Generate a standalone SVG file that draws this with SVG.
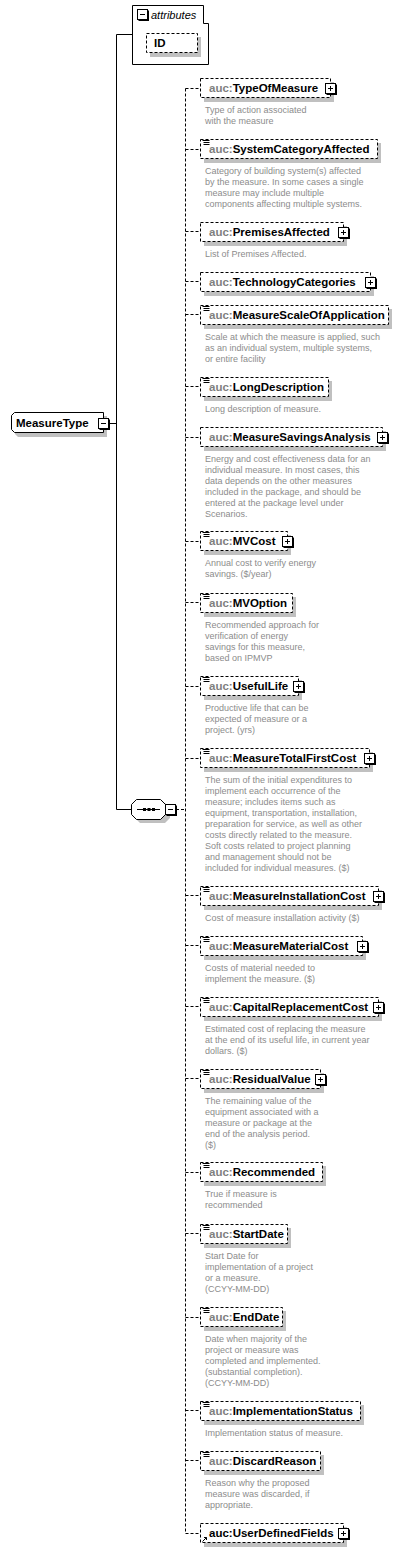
<svg xmlns="http://www.w3.org/2000/svg" xmlns:xlink="http://www.w3.org/1999/xlink" width="403" height="1552" viewBox="0 0 403 1552">
<style>
.box{fill:#fff;stroke:#000;stroke-dasharray:3,2}
.sbox{fill:#fff;stroke:#000}
.sh{fill:#c0c0c0}
.conn{stroke:#000;fill:none;stroke-dasharray:3,2}
.line{stroke:#000;fill:none}
.nm{font-family:"Liberation Sans",Arial,sans-serif;font-size:11.5px;font-weight:bold;fill:#000}
.ns{fill:#808080}
.desc{font-family:"Liberation Sans",Arial,sans-serif;font-size:9px;fill:#8c8c8c}
.it{font-family:"Liberation Sans",Arial,sans-serif;font-size:11px;font-style:italic;fill:#000}
</style>
<defs>
<g id="plus"><path d="M11.5 1.5v10.5M1.5 11.5h10.5" stroke="#000"/><rect x="0.5" y="0.5" width="10" height="10" fill="#fff" stroke="#000"/><path d="M3 5.5h5M5.5 3v5" stroke="#000"/></g>
<g id="minus"><path d="M11.5 1.5v10.5M1.5 11.5h10.5" stroke="#000"/><rect x="0.5" y="0.5" width="10" height="10" fill="#fff" stroke="#000"/><path d="M3 5.5h5" stroke="#000"/></g>
<g id="doc"><path d="M1.5 0.5h7M2.5 2.5h6M2.5 4.5h6" stroke="#000"/></g>
</defs>

<g id="connectors">
<path class="line" d="M116.5 34.5V809.5M116.5 34.5H132M108 423.5H116.5M116.5 809.5H131"/>
<path class="conn" d="M176 809.5H185.5M185.5 88.5V1533.5"/>
<path class="conn" d="M185.5 88.5H200M185.5 149.5H200M185.5 231.5H200M185.5 281.5H200M185.5 314.5H200M185.5 386.5H200M185.5 437.5H200M185.5 541.5H200M185.5 602.5H200M185.5 686.5H200M185.5 758.5H200M185.5 895.5H200M185.5 945.5H200M185.5 1006.5H200M185.5 1078.5H200M185.5 1172.5H200M185.5 1233.5H200M185.5 1317.5H200M185.5 1410.5H200M185.5 1460.5H200M185.5 1533.5H200"/>
</g>

<g id="n_attributes">
<path class="sbox" d="M132.5 5.5H203.5V23.5H208.5V64.5H132.5Z"/>
<use xlink:href="#minus" x="137" y="9"/>
<text class="it" x="151" y="19">attributes</text>
</g>
<g id="n_ID">
<rect class="sh" x="150" y="37" width="51" height="20"/>
<rect class="box" x="146.5" y="33.5" width="51" height="19"/>
<text class="nm" x="154" y="47">ID</text>
</g>

<g id="n_MeasureType">
<polygon class="sh" points="18,416 107,416 107,437 18,437 15,434 15,419"/>
<polygon class="sbox" points="14.5,412.5 103.5,412.5 103.5,432.5 14.5,432.5 11.5,429.5 11.5,415.5"/>
<text class="nm" x="16" y="426.5">MeasureType</text>
<use xlink:href="#minus" x="98" y="418"/>
</g>

<g id="n_sequence">
<polygon class="sh" points="140,803 165,803 170,808 170,818 165,823 140,823 135,818 135,808"/>
<polygon class="sbox" points="136.5,799.5 160.5,799.5 165.5,804.5 165.5,814.5 160.5,819.5 136.5,819.5 131.5,814.5 131.5,804.5"/>
<path class="line" d="M137 809.5H160"/>
<rect x="143" y="808" width="3" height="3" fill="#000"/>
<rect x="147.5" y="808" width="3" height="3" fill="#000"/>
<rect x="152" y="808" width="3" height="3" fill="#000"/>
<use xlink:href="#minus" x="165" y="804"/>
</g>

<g id="n_TypeOfMeasure">
<rect class="sh" x="204" y="82" width="130" height="20"/>
<rect class="box" x="200.5" y="78.5" width="130" height="19"/>
<text class="nm" x="209" y="92"><tspan class="ns">auc:</tspan>TypeOfMeasure</text>
<use xlink:href="#plus" x="325" y="83"/>
<text class="desc"><tspan x="205" y="113">Type of action associated</tspan><tspan x="205" y="124">with the measure</tspan></text>
</g>

<g id="n_SystemCategoryAffected">
<rect class="sh" x="204" y="143" width="177" height="20"/>
<rect class="box" x="200.5" y="139.5" width="177" height="19"/>
<use xlink:href="#doc" x="201" y="140"/>
<text class="nm" x="209" y="153"><tspan class="ns">auc:</tspan>SystemCategoryAffected</text>
<text class="desc"><tspan x="205" y="174">Category of building system(s) affected</tspan><tspan x="205" y="185">by the measure. In some cases a single</tspan><tspan x="205" y="196">measure may include multiple</tspan><tspan x="205" y="207">components affecting multiple systems.</tspan></text>
</g>

<g id="n_PremisesAffected">
<rect class="sh" x="204" y="226" width="143" height="20"/>
<rect class="box" x="200.5" y="222.5" width="143" height="19"/>
<text class="nm" x="209" y="236"><tspan class="ns">auc:</tspan>PremisesAffected</text>
<use xlink:href="#plus" x="338" y="227"/>
<text class="desc"><tspan x="205" y="257">List of Premises Affected.</tspan></text>
</g>

<g id="n_TechnologyCategories">
<rect class="sh" x="204" y="276" width="170" height="20"/>
<rect class="box" x="200.5" y="272.5" width="170" height="19"/>
<text class="nm" x="209" y="286"><tspan class="ns">auc:</tspan>TechnologyCategories</text>
<use xlink:href="#plus" x="365" y="277"/>
</g>

<g id="n_MeasureScaleOfApplication">
<rect class="sh" x="204" y="309" width="188" height="20"/>
<rect class="box" x="200.5" y="305.5" width="188" height="19"/>
<use xlink:href="#doc" x="201" y="306"/>
<text class="nm" x="209" y="319"><tspan class="ns">auc:</tspan>MeasureScaleOfApplication</text>
<text class="desc"><tspan x="205" y="340">Scale at which the measure is applied, such</tspan><tspan x="205" y="351">as an individual system, multiple systems,</tspan><tspan x="205" y="362">or entire facility</tspan></text>
</g>

<g id="n_LongDescription">
<rect class="sh" x="204" y="381" width="128" height="20"/>
<rect class="box" x="200.5" y="377.5" width="128" height="19"/>
<use xlink:href="#doc" x="201" y="378"/>
<text class="nm" x="209" y="391"><tspan class="ns">auc:</tspan>LongDescription</text>
<text class="desc"><tspan x="205" y="412">Long description of measure.</tspan></text>
</g>

<g id="n_MeasureSavingsAnalysis">
<rect class="sh" x="204" y="431" width="182" height="20"/>
<rect class="box" x="200.5" y="427.5" width="182" height="19"/>
<text class="nm" x="209" y="441"><tspan class="ns">auc:</tspan>MeasureSavingsAnalysis</text>
<use xlink:href="#plus" x="377" y="432"/>
<text class="desc"><tspan x="205" y="462">Energy and cost effectiveness data for an</tspan><tspan x="205" y="473">individual measure. In most cases, this</tspan><tspan x="205" y="484">data depends on the other measures</tspan><tspan x="205" y="495">included in the package, and should be</tspan><tspan x="205" y="506">entered at the package level under</tspan><tspan x="205" y="517">Scenarios.</tspan></text>
</g>

<g id="n_MVCost">
<rect class="sh" x="204" y="535" width="87" height="20"/>
<rect class="box" x="200.5" y="531.5" width="87" height="19"/>
<use xlink:href="#doc" x="201" y="532"/>
<text class="nm" x="209" y="545"><tspan class="ns">auc:</tspan>MVCost</text>
<use xlink:href="#plus" x="282" y="536"/>
<text class="desc"><tspan x="205" y="566">Annual cost to verify energy</tspan><tspan x="205" y="577">savings. ($/year)</tspan></text>
</g>

<g id="n_MVOption">
<rect class="sh" x="204" y="597" width="92" height="20"/>
<rect class="box" x="200.5" y="593.5" width="92" height="19"/>
<use xlink:href="#doc" x="201" y="594"/>
<text class="nm" x="209" y="607"><tspan class="ns">auc:</tspan>MVOption</text>
<text class="desc"><tspan x="205" y="628">Recommended approach for</tspan><tspan x="205" y="639">verification of energy</tspan><tspan x="205" y="650">savings for this measure,</tspan><tspan x="205" y="661">based on IPMVP</tspan></text>
</g>

<g id="n_UsefulLife">
<rect class="sh" x="204" y="680" width="98" height="20"/>
<rect class="box" x="200.5" y="676.5" width="98" height="19"/>
<use xlink:href="#doc" x="201" y="677"/>
<text class="nm" x="209" y="690"><tspan class="ns">auc:</tspan>UsefulLife</text>
<use xlink:href="#plus" x="293" y="681"/>
<text class="desc"><tspan x="205" y="711">Productive life that can be</tspan><tspan x="205" y="722">expected of measure or a</tspan><tspan x="205" y="733">project. (yrs)</tspan></text>
</g>

<g id="n_MeasureTotalFirstCost">
<rect class="sh" x="204" y="752" width="169" height="20"/>
<rect class="box" x="200.5" y="748.5" width="169" height="19"/>
<use xlink:href="#doc" x="201" y="749"/>
<text class="nm" x="209" y="762"><tspan class="ns">auc:</tspan>MeasureTotalFirstCost</text>
<use xlink:href="#plus" x="364" y="753"/>
<text class="desc"><tspan x="205" y="783">The sum of the initial expenditures to</tspan><tspan x="205" y="794">implement each occurrence of the</tspan><tspan x="205" y="805">measure; includes items such as</tspan><tspan x="205" y="816">equipment, transportation, installation,</tspan><tspan x="205" y="827">preparation for service, as well as other</tspan><tspan x="205" y="838">costs directly related to the measure.</tspan><tspan x="205" y="849">Soft costs related to project planning</tspan><tspan x="205" y="860">and management should not be</tspan><tspan x="205" y="871">included for individual measures. ($)</tspan></text>
</g>

<g id="n_MeasureInstallationCost">
<rect class="sh" x="204" y="890" width="178" height="20"/>
<rect class="box" x="200.5" y="886.5" width="178" height="19"/>
<use xlink:href="#doc" x="201" y="887"/>
<text class="nm" x="209" y="900"><tspan class="ns">auc:</tspan>MeasureInstallationCost</text>
<use xlink:href="#plus" x="373" y="891"/>
<text class="desc"><tspan x="205" y="921">Cost of measure installation activity ($)</tspan></text>
</g>

<g id="n_MeasureMaterialCost">
<rect class="sh" x="204" y="940" width="162" height="20"/>
<rect class="box" x="200.5" y="936.5" width="162" height="19"/>
<use xlink:href="#doc" x="201" y="937"/>
<text class="nm" x="209" y="950"><tspan class="ns">auc:</tspan>MeasureMaterialCost</text>
<use xlink:href="#plus" x="357" y="941"/>
<text class="desc"><tspan x="205" y="971">Costs of material needed to</tspan><tspan x="205" y="982">implement the measure. ($)</tspan></text>
</g>

<g id="n_CapitalReplacementCost">
<rect class="sh" x="204" y="1001" width="178" height="20"/>
<rect class="box" x="200.5" y="997.5" width="178" height="19"/>
<use xlink:href="#doc" x="201" y="998"/>
<text class="nm" x="209" y="1011"><tspan class="ns">auc:</tspan>CapitalReplacementCost</text>
<use xlink:href="#plus" x="373" y="1002"/>
<text class="desc"><tspan x="205" y="1032">Estimated cost of replacing the measure</tspan><tspan x="205" y="1043">at the end of its useful life, in current year</tspan><tspan x="205" y="1054">dollars. ($)</tspan></text>
</g>

<g id="n_ResidualValue">
<rect class="sh" x="204" y="1073" width="120" height="20"/>
<rect class="box" x="200.5" y="1069.5" width="120" height="19"/>
<use xlink:href="#doc" x="201" y="1070"/>
<text class="nm" x="209" y="1083"><tspan class="ns">auc:</tspan>ResidualValue</text>
<use xlink:href="#plus" x="315" y="1074"/>
<text class="desc"><tspan x="205" y="1104">The remaining value of the</tspan><tspan x="205" y="1115">equipment associated with a</tspan><tspan x="205" y="1126">measure or package at the</tspan><tspan x="205" y="1137">end of the analysis period.</tspan><tspan x="205" y="1148">($)</tspan></text>
</g>

<g id="n_Recommended">
<rect class="sh" x="204" y="1166" width="122" height="20"/>
<rect class="box" x="200.5" y="1162.5" width="122" height="19"/>
<use xlink:href="#doc" x="201" y="1163"/>
<text class="nm" x="209" y="1176"><tspan class="ns">auc:</tspan>Recommended</text>
<text class="desc"><tspan x="205" y="1197">True if measure is</tspan><tspan x="205" y="1208">recommended</tspan></text>
</g>

<g id="n_StartDate">
<rect class="sh" x="204" y="1228" width="87" height="20"/>
<rect class="box" x="200.5" y="1224.5" width="87" height="19"/>
<use xlink:href="#doc" x="201" y="1225"/>
<text class="nm" x="209" y="1238"><tspan class="ns">auc:</tspan>StartDate</text>
<text class="desc"><tspan x="205" y="1259">Start Date for</tspan><tspan x="205" y="1270">implementation of a project</tspan><tspan x="205" y="1281">or a measure.</tspan><tspan x="205" y="1292">(CCYY-MM-DD)</tspan></text>
</g>

<g id="n_EndDate">
<rect class="sh" x="204" y="1311" width="82" height="20"/>
<rect class="box" x="200.5" y="1307.5" width="82" height="19"/>
<use xlink:href="#doc" x="201" y="1308"/>
<text class="nm" x="209" y="1321"><tspan class="ns">auc:</tspan>EndDate</text>
<text class="desc"><tspan x="205" y="1342">Date when majority of the</tspan><tspan x="205" y="1353">project or measure was</tspan><tspan x="205" y="1364">completed and implemented.</tspan><tspan x="205" y="1375">(substantial completion).</tspan><tspan x="205" y="1386">(CCYY-MM-DD)</tspan></text>
</g>

<g id="n_ImplementationStatus">
<rect class="sh" x="204" y="1405" width="160" height="20"/>
<rect class="box" x="200.5" y="1401.5" width="160" height="19"/>
<use xlink:href="#doc" x="201" y="1402"/>
<text class="nm" x="209" y="1415"><tspan class="ns">auc:</tspan>ImplementationStatus</text>
<text class="desc"><tspan x="205" y="1436">Implementation status of measure.</tspan></text>
</g>

<g id="n_DiscardReason">
<rect class="sh" x="204" y="1455" width="120" height="20"/>
<rect class="box" x="200.5" y="1451.5" width="120" height="19"/>
<use xlink:href="#doc" x="201" y="1452"/>
<text class="nm" x="209" y="1465"><tspan class="ns">auc:</tspan>DiscardReason</text>
<text class="desc"><tspan x="205" y="1486">Reason why the proposed</tspan><tspan x="205" y="1497">measure was discarded, if</tspan><tspan x="205" y="1508">appropriate.</tspan></text>
</g>

<g id="n_UserDefinedFields">
<rect class="sh" x="204" y="1527" width="143" height="20"/>
<rect class="box" x="200.5" y="1523.5" width="143" height="19"/>
<path d="M202.5 1541.5L206.5 1537.5M204 1537.5H206.5V1540" stroke="#000" fill="none"/>
<text class="nm" x="209" y="1537">auc:UserDefinedFields</text>
<use xlink:href="#plus" x="338" y="1528"/>
</g>
</svg>
